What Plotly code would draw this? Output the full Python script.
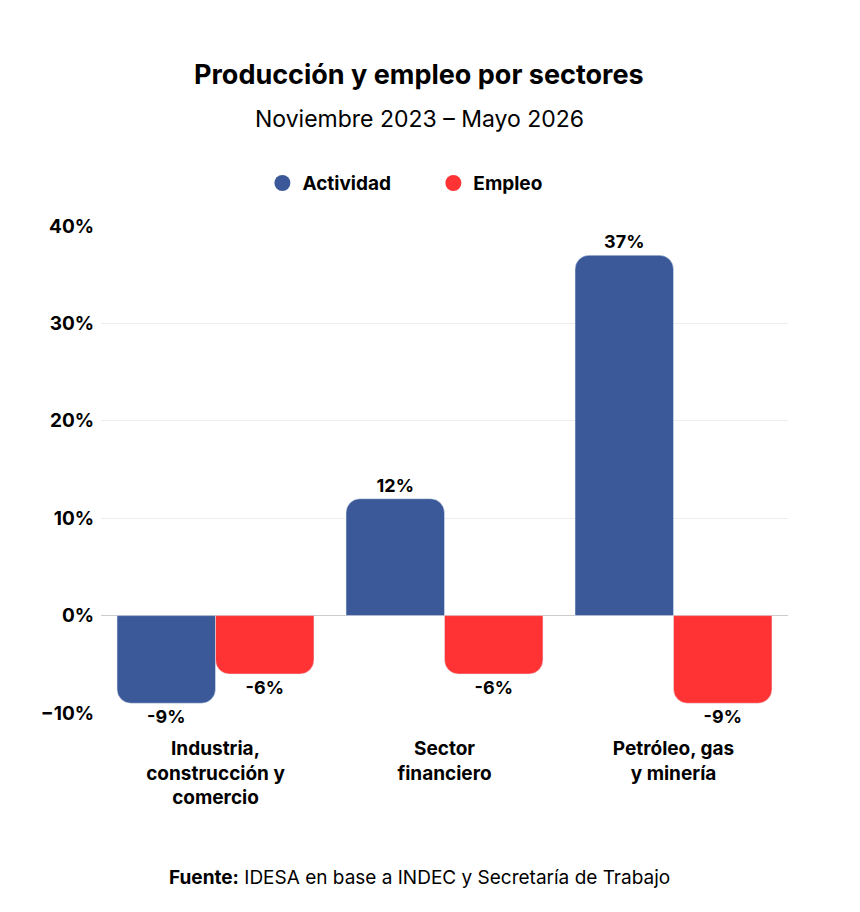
import plotly.graph_objects as go

sectores = ["<b>Industria,<br>construcción y<br>comercio</b>",
            "<b>Sector<br>financiero</b>",
            "<b>Petróleo, gas<br>y minería</b>"]
actividad = [-9, 12, 37]
empleo = [-6, -6, -9]

AZUL = "#3b5998"
ROJO = "#ff3333"
FONT = "Inter"

fig = go.Figure()

for name, vals, color in [("Actividad", actividad, AZUL), ("Empleo", empleo, ROJO)]:
    fig.add_trace(go.Bar(
        x=sectores, y=vals, name=name, marker_color=color,
        text=[f"<b>{v}%</b>" for v in vals], textposition="outside",
        textfont=dict(size=18, color="black", family=FONT),
        cliponaxis=False, showlegend=False,
    ))
    # marcador circular para la leyenda
    fig.add_trace(go.Scatter(
        x=[None], y=[None], mode="markers", name=f"<b>{name}</b>       ",
        marker=dict(color=color, size=22, symbol="circle"),
    ))

fig.update_layout(
    width=860, height=912,
    paper_bgcolor="white", plot_bgcolor="white",
    font=dict(family=FONT, size=18, color="black"),
    margin=dict(l=93, r=80, t=218, b=207, autoexpand=False),
    barmode="group", bargap=0.14, bargroupgap=0,
    barcornerradius=14,
    legend=dict(orientation="h", x=0.47, xanchor="center", y=1.088, yanchor="middle",
                font=dict(size=19), itemwidth=30),
)
fig.add_annotation(text="<b>Producción y empleo por sectores</b>", xref="paper", yref="paper",
                   x=0.463, y=1.349, showarrow=False, font=dict(size=27))
fig.add_annotation(text="Noviembre 2023 – Mayo 2026", xref="paper", yref="paper",
                   x=0.463, y=1.2526, showarrow=False, font=dict(size=23))
fig.add_annotation(text="<b>Fuente:</b> IDESA en base a INDEC y Secretaría de Trabajo",
                   xref="paper", yref="paper", x=0.463, y=-0.366, showarrow=False,
                   font=dict(size=19))

fig.update_yaxes(range=[-10, 40], dtick=10, ticksuffix="%", showgrid=True,
                 gridcolor="#eeeeee", zeroline=True, zerolinecolor="#cccccc",
                 zerolinewidth=1, tickfont=dict(size=19), ticklabelstandoff=6,
                 tickprefix="<b>", showline=False, automargin=False)
fig.update_xaxes(showgrid=False, tickfont=dict(size=19), ticklabelstandoff=22,
                 automargin=False)

fig.write_html("out.html")
